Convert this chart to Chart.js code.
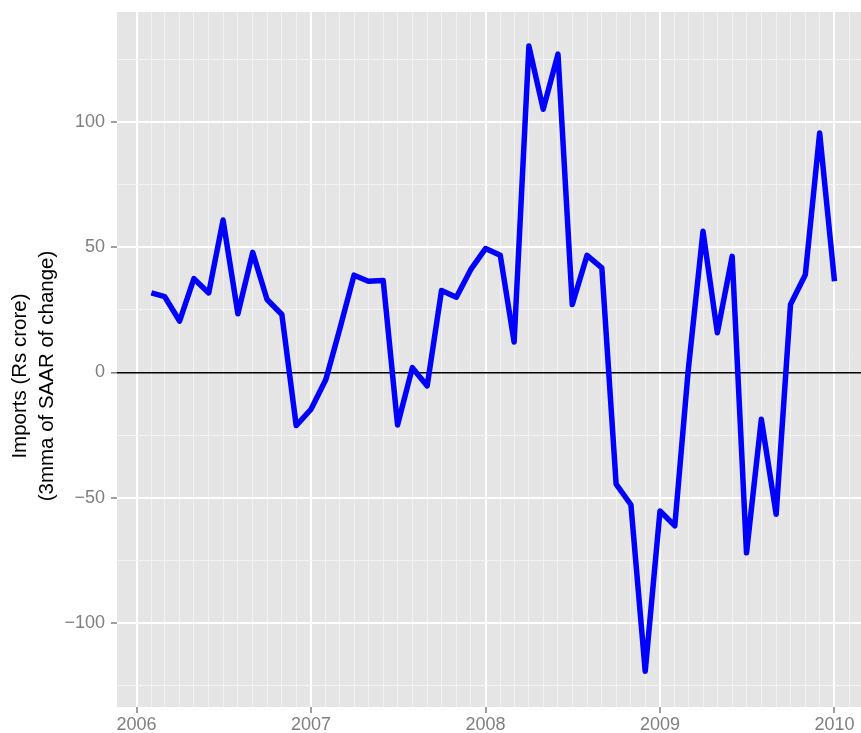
<!DOCTYPE html>
<html>
<head>
<meta charset="utf-8">
<title>Imports</title>
<script src="https://cdn.jsdelivr.net/npm/chart.js@4.4.0/dist/chart.umd.min.js"></script>
<style>
  html, body { margin: 0; padding: 0; background: #ffffff; }
  #chartBox { width: 861px; height: 733px; }
</style>
</head>
<body>
<div id="chartBox"><canvas id="importsChart" width="861" height="733"></canvas></div>
<script>
// Monate (jeweils der Monatserste)
const months = [
  '2006-02', '2006-03', '2006-04', '2006-05', '2006-06', '2006-07', '2006-08', '2006-09', '2006-10', '2006-11', '2006-12',
  '2007-01', '2007-02', '2007-03', '2007-04', '2007-05', '2007-06', '2007-07', '2007-08', '2007-09', '2007-10', '2007-11', '2007-12',
  '2008-01', '2008-02', '2008-03', '2008-04', '2008-05', '2008-06', '2008-07', '2008-08', '2008-09', '2008-10', '2008-11', '2008-12',
  '2009-01', '2009-02', '2009-03', '2009-04', '2009-05', '2009-06', '2009-07', '2009-08', '2009-09', '2009-10', '2009-11', '2009-12',
  '2010-01'
];

// Imports (Rs crore), 3mma of SAAR of change
const imports3mma = [
  31.7, 30.2, 20.5, 37.4, 31.7, 60.8, 23.4, 47.9, 29.1, 23.1, -21.2,
  -14.7, -2.8, 16.5, 38.8, 36.4, 36.7, -21.0, 1.9, -5.4, 32.7, 30.0, 41.0,
  49.4, 46.7, 12.1, 130.2, 105.0, 127.0, 27.1, 46.7, 41.7, -44.6, -52.8, -119.2,
  -55.3, -61.2, 0.8, 56.3, 15.8, 46.3, -72.0, -18.7, -56.6, 27.1, 39.0, 95.5,
  36.4
];

const yearLabels = [2006, 2007, 2008, 2009, 2010];
const yTickValues = [-125, -100, -75, -50, -25, 0, 25, 50, 75, 100, 125];
const yMajorTicks = [-100, -50, 0, 50, 100];
const yTitle = ['Imports (Rs crore)', '(3mma of SAAR of change)'];

const FONT = '"Liberation Sans", Arial, Helvetica, sans-serif';
const GREY = '#7f7f7f';

// Datum 'JJJJ-MM' -> Dezimaljahr
function toYear(ym) {
  const parts = ym.split('-').map(Number);
  const y = parts[0], m = parts[1];
  const start = Date.UTC(y, 0, 1);
  const end = Date.UTC(y + 1, 0, 1);
  return y + (Date.UTC(y, m - 1, 1) - start) / (end - start);
}

// Gitterlinien für jeden Monat
const monthTicks = [];
for (let y = yearLabels[0]; y <= yearLabels[yearLabels.length - 1]; y++) {
  for (let m = 1; m <= 12; m++) {
    const v = toYear(y + '-' + (m < 10 ? '0' + m : m));
    if (v <= 2010.15) monthTicks.push(v);
  }
}

function isYear(v) {
  return yearLabels.some(y => Math.abs(v - y) < 1e-9);
}

const points = months.map((m, i) => ({ x: toYear(m), y: imports3mma[i] }));

// Hintergrund des Plotbereichs
const panelBg = {
  id: 'panelBg',
  beforeDraw(chart) {
    const a = chart.chartArea;
    const ctx = chart.ctx;
    ctx.save();
    ctx.fillStyle = '#ffffff';
    ctx.fillRect(0, 0, chart.width, chart.height);
    ctx.fillStyle = '#e5e5e5';
    ctx.fillRect(a.left, a.top, a.right - a.left, a.bottom - a.top);
    ctx.restore();
  }
};

// Achsentitel (zweizeilig, gedreht)
const yTitlePlugin = {
  id: 'yTitlePlugin',
  afterDraw(chart) {
    const ctx = chart.ctx;
    ctx.save();
    ctx.translate(20.5, 376);
    ctx.rotate(-Math.PI / 2);
    ctx.font = '20.5px ' + FONT;
    ctx.fillStyle = '#000000';
    ctx.textAlign = 'center';
    ctx.textBaseline = 'middle';
    yTitle.forEach((line, i) => ctx.fillText(line, 0, i * 27));
    ctx.restore();
  }
};

const ctx = document.getElementById('importsChart').getContext('2d');
const chart = new Chart(ctx, {
  type: 'line',
  data: {
    datasets: [{
      data: points,
      borderColor: '#0000ff',
      borderWidth: 5.5,
      borderJoinStyle: 'round',
      borderCapStyle: 'butt',
      pointRadius: 0,
      tension: 0,
      fill: false
    }]
  },
  options: {
    responsive: false,
    animation: false,
    parsing: false,
    layout: { padding: { top: 12, right: 0, bottom: 0, left: 0 } },
    plugins: {
      legend: { display: false },
      tooltip: { enabled: false }
    },
    scales: {
      x: {
        type: 'linear',
        min: 2005.888,
        max: 2010.152,
        afterBuildTicks: scale => { scale.ticks = monthTicks.map(v => ({ value: v })); },
        afterFit: scale => {
          scale.height = 26;
          scale.paddingLeft = 0;
          scale.paddingRight = 0;
        },
        border: { display: false },
        grid: {
          z: -2,
          color: c => isYear(c.tick.value) ? '#ffffff' : '#f2f2f2',
          lineWidth: c => isYear(c.tick.value) ? 2 : 1,
          tickColor: c => isYear(c.tick.value) ? GREY : 'rgba(0,0,0,0)',
          tickWidth: c => isYear(c.tick.value) ? 1.5 : 0,
          tickLength: 6
        },
        ticks: {
          autoSkip: false,
          maxRotation: 0,
          padding: 1,
          color: GREY,
          font: { family: FONT, size: 18 },
          callback: v => isYear(v) ? String(Math.round(v)) : ''
        }
      },
      y: {
        min: -133.5,
        max: 143.8,
        afterBuildTicks: scale => { scale.ticks = yTickValues.map(v => ({ value: v })); },
        afterFit: scale => {
          scale.width = 117;
          scale.paddingTop = 0;
          scale.paddingBottom = 0;
        },
        border: { display: false },
        grid: {
          z: -1,
          color: c => c.tick.value === 0 ? '#000000' : (yMajorTicks.includes(c.tick.value) ? '#ffffff' : '#f2f2f2'),
          lineWidth: c => c.tick.value === 0 ? 1.6 : (yMajorTicks.includes(c.tick.value) ? 2 : 1),
          tickColor: c => yMajorTicks.includes(c.tick.value) ? GREY : 'rgba(0,0,0,0)',
          tickWidth: c => yMajorTicks.includes(c.tick.value) ? 1.5 : 0,
          tickLength: 6
        },
        ticks: {
          padding: 6,
          color: GREY,
          font: { family: FONT, size: 18 },
          callback: v => yMajorTicks.includes(v) ? (v < 0 ? '\u2212' + Math.abs(v) : String(v)) : ''
        }
      }
    }
  },
  plugins: [panelBg, yTitlePlugin]
});
</script>
</body>
</html>
